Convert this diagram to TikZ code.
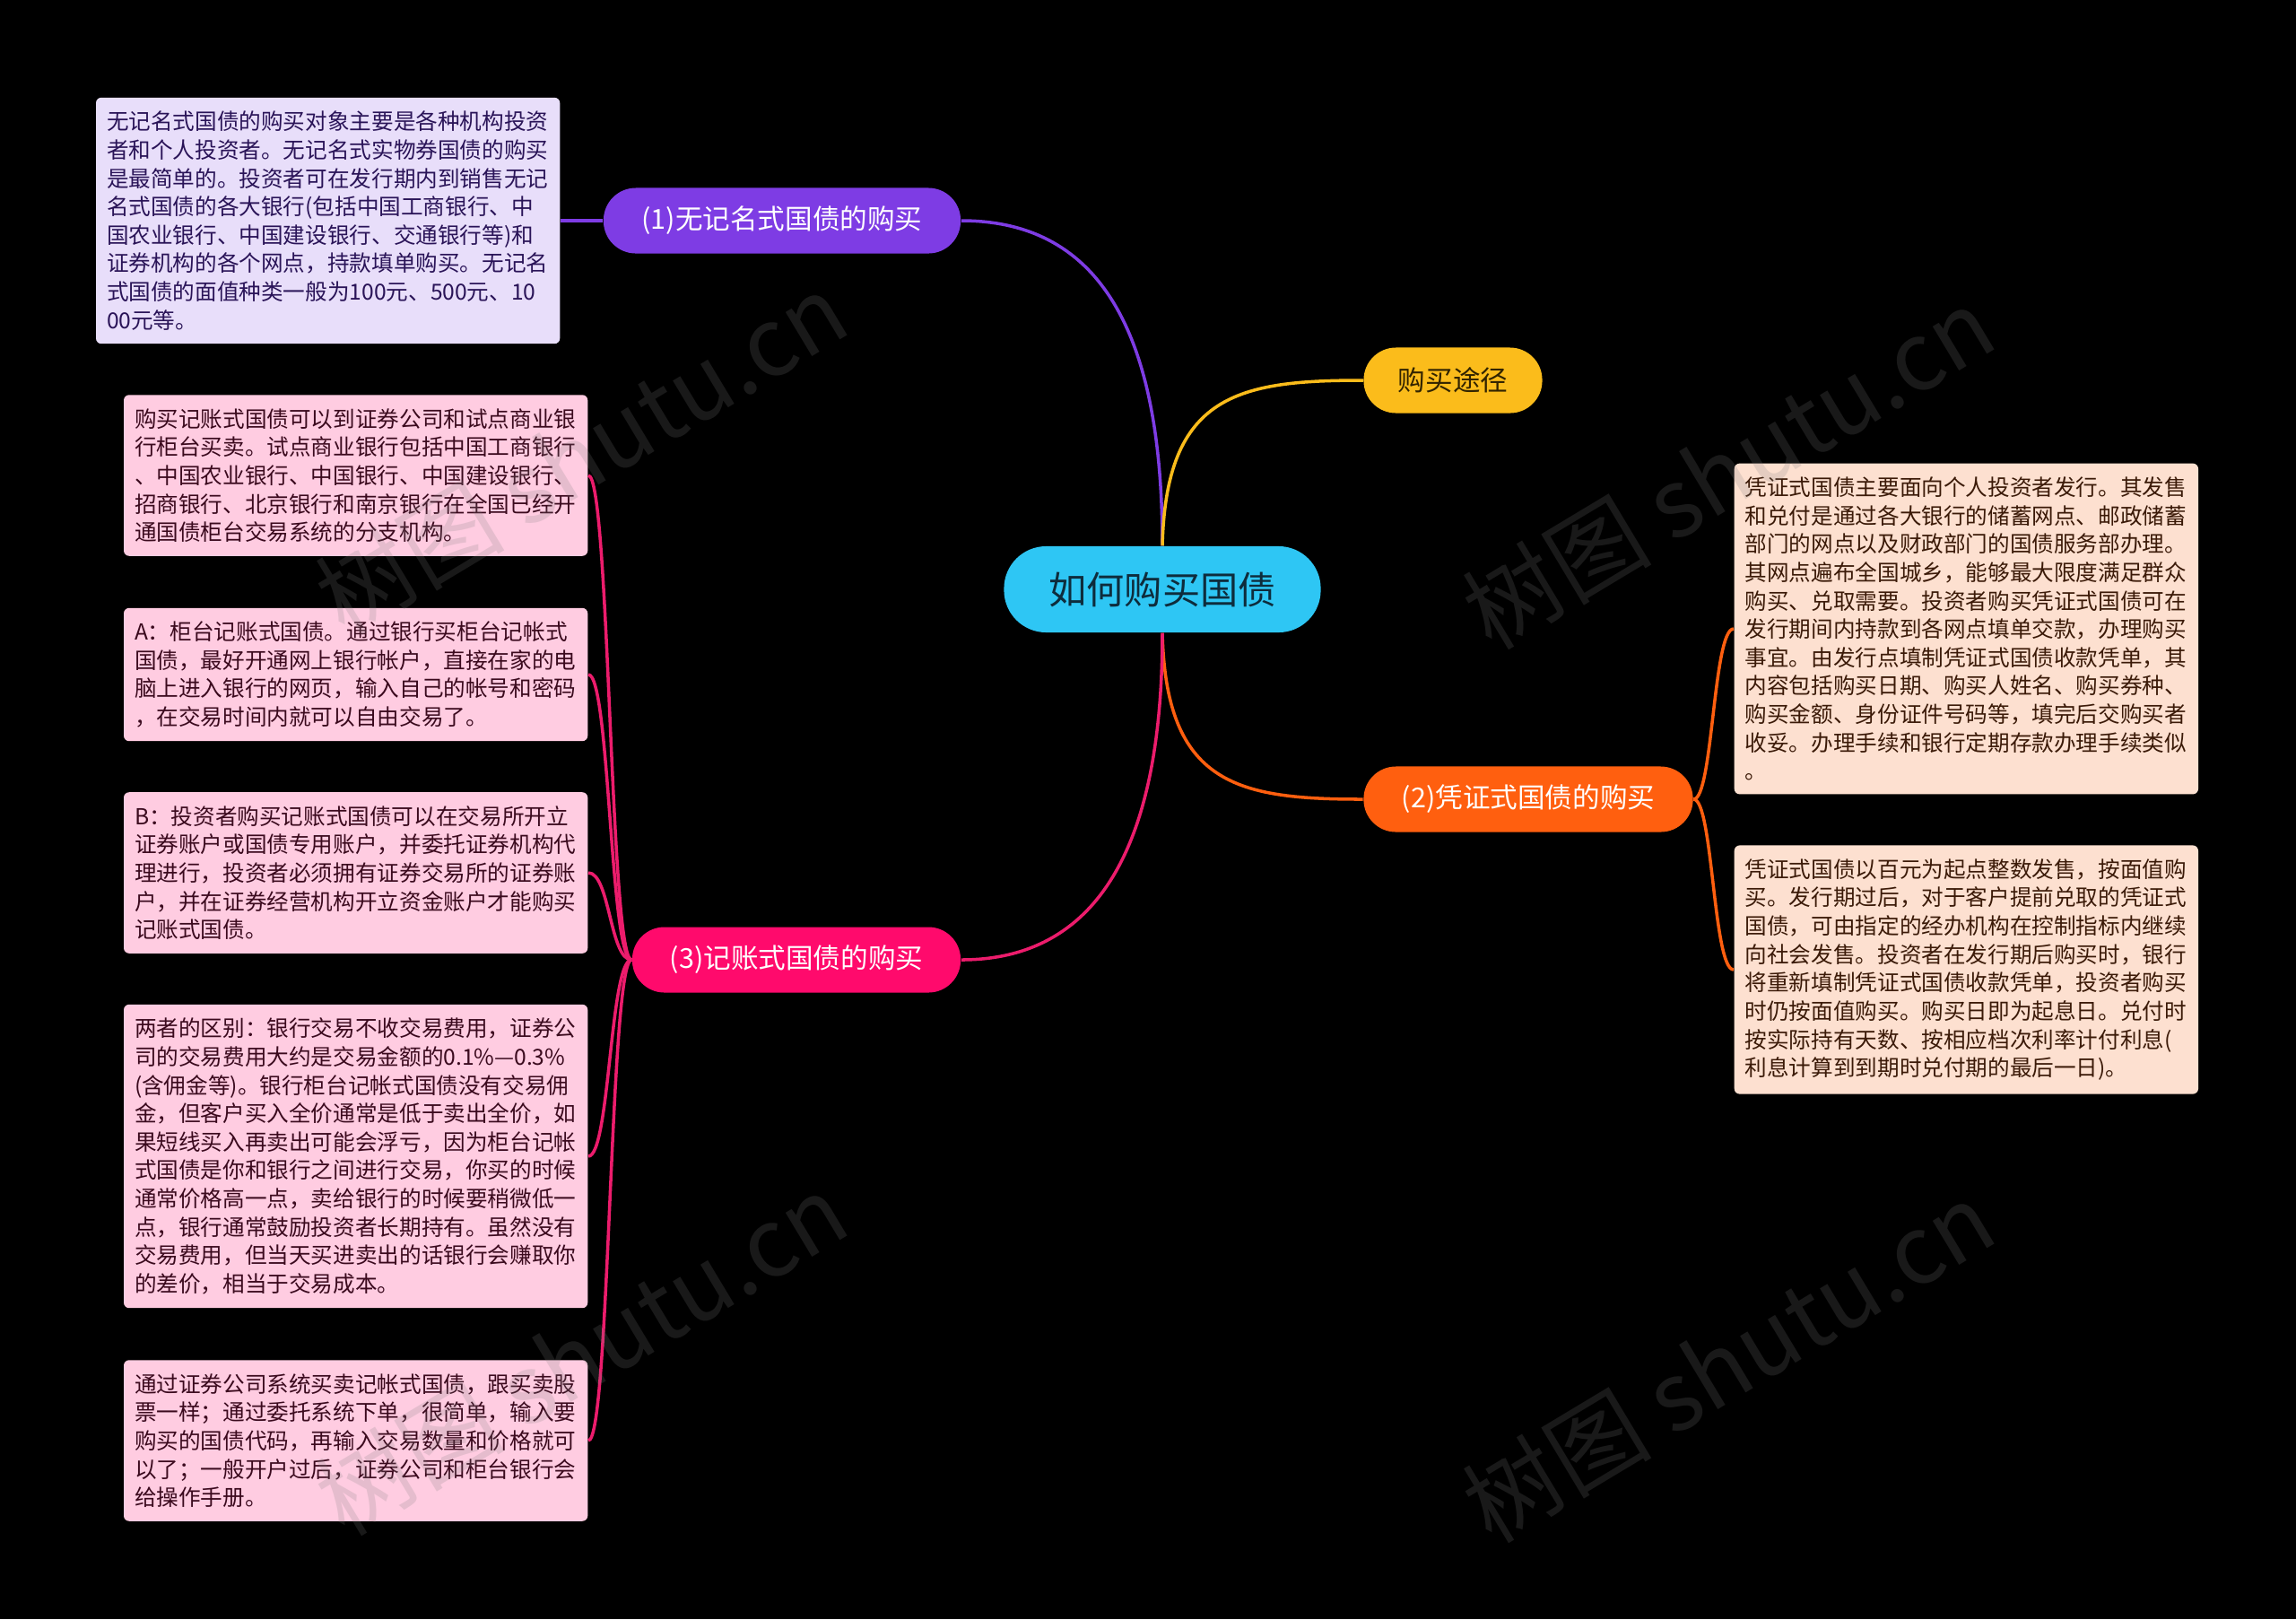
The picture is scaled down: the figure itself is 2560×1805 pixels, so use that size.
\documentclass[tikz,border=0pt]{standalone}
\usepackage{fontspec}
\setmainfont{Noto Sans CJK SC}
\definecolor{bgc}{RGB}{0,0,0}
\definecolor{cblue}{RGB}{46,198,244}
\definecolor{ctext}{RGB}{14,44,60}
\definecolor{cyel}{RGB}{251,188,27}
\definecolor{ytext}{RGB}{50,36,0}
\definecolor{cpur}{RGB}{126,60,228}
\definecolor{pbox}{RGB}{232,222,250}
\definecolor{ptext}{RGB}{42,20,88}
\definecolor{corg}{RGB}{255,95,15}
\definecolor{obox}{RGB}{253,224,208}
\definecolor{otext}{RGB}{59,26,8}
\definecolor{cpink}{RGB}{255,10,108}
\definecolor{kline}{RGB}{236,28,108}
\definecolor{kbox}{RGB}{255,204,225}
\definecolor{ktext}{RGB}{59,10,30}
\begin{document}
\begin{tikzpicture}[x=0.01cm,y=-0.01cm,
  pill/.style={rounded corners=0.36cm, minimum height=0.73cm, inner sep=0pt, align=center, font=\fontsize{8.7}{10}\selectfont},
  textbox/.style={rounded corners=0.06cm, text width=4.93cm, inner xsep=0.12cm, inner ysep=0.15cm, align=left, font=\fontsize{7}{9}\selectfont},
  link/.style={line width=1pt},
  wmark/.style={rotate=31, text=gray, text opacity=0.2, font=\fontsize{30}{30}\selectfont}
]
\useasboundingbox (0,0) rectangle (2560,1805);
\fill[bgc] (0,0) rectangle (2560,1805);

% centre and main branches
\node[fill=cblue, rounded corners=0.47cm, minimum width=3.53cm, minimum height=0.96cm, inner sep=0pt, text=ctext, font=\fontsize{12}{14}\selectfont] (c) at (1296,657) {如何购买国债};
\node[pill, fill=cyel, text=ytext, minimum width=1.99cm] (y) at (1620,424) {购买途径};
\node[pill, fill=cpur, text=white, minimum width=3.98cm] (n1) at (872,246) {(1)无记名式国债的购买};
\node[pill, fill=corg, text=white, minimum width=3.67cm] (n2) at (1704,891) {(2)凭证式国债的购买};
\node[pill, fill=cpink, text=white, minimum width=3.66cm] (n3) at (888,1070) {(3)记账式国债的购买};

% leaf boxes
\node[textbox, fill=pbox, text=ptext, anchor=east] (b1) at (625,246) {无记名式国债的购买对象主要是各种机构投资\\者和个人投资者。无记名式实物券国债的购买\\是最简单的。投资者可在发行期内到销售无记\\名式国债的各大银行(包括中国工商银行、中\\国农业银行、中国建设银行、交通银行等)和\\证券机构的各个网点，持款填单购买。无记名\\式国债的面值种类一般为100元、500元、10\\00元等。};

\node[textbox, fill=kbox, text=ktext, anchor=east] (b2) at (656,530) {购买记账式国债可以到证券公司和试点商业银\\行柜台买卖。试点商业银行包括中国工商银行\\、中国农业银行、中国银行、中国建设银行、\\招商银行、北京银行和南京银行在全国已经开\\通国债柜台交易系统的分支机构。};
\node[textbox, fill=kbox, text=ktext, anchor=east] (b3) at (656,752) {A：柜台记账式国债。通过银行买柜台记帐式\\国债，最好开通网上银行帐户，直接在家的电\\脑上进入银行的网页，输入自己的帐号和密码\\，在交易时间内就可以自由交易了。};
\node[textbox, fill=kbox, text=ktext, anchor=east] (b4) at (656,973) {B：投资者购买记账式国债可以在交易所开立\\证券账户或国债专用账户，并委托证券机构代\\理进行，投资者必须拥有证券交易所的证券账\\户，并在证券经营机构开立资金账户才能购买\\记账式国债。};
\node[textbox, fill=kbox, text=ktext, anchor=east] (b5) at (656,1289) {两者的区别：银行交易不收交易费用，证券公\\司的交易费用大约是交易金额的0.1\%—0.3\%\\(含佣金等)。银行柜台记帐式国债没有交易佣\\金，但客户买入全价通常是低于卖出全价，如\\果短线买入再卖出可能会浮亏，因为柜台记帐\\式国债是你和银行之间进行交易，你买的时候\\通常价格高一点，卖给银行的时候要稍微低一\\点，银行通常鼓励投资者长期持有。虽然没有\\交易费用，但当天买进卖出的话银行会赚取你\\的差价，相当于交易成本。};
\node[textbox, fill=kbox, text=ktext, anchor=east] (b6) at (656,1606) {通过证券公司系统买卖记帐式国债，跟买卖股\\票一样；通过委托系统下单，很简单，输入要\\购买的国债代码，再输入交易数量和价格就可\\以了；一般开户过后，证券公司和柜台银行会\\给操作手册。};

\node[textbox, fill=obox, text=otext, anchor=west] (b7) at (1933,701) {凭证式国债主要面向个人投资者发行。其发售\\和兑付是通过各大银行的储蓄网点、邮政储蓄\\部门的网点以及财政部门的国债服务部办理。\\其网点遍布全国城乡，能够最大限度满足群众\\购买、兑取需要。投资者购买凭证式国债可在\\发行期间内持款到各网点填单交款，办理购买\\事宜。由发行点填制凭证式国债收款凭单，其\\内容包括购买日期、购买人姓名、购买券种、\\购买金额、身份证件号码等，填完后交购买者\\收妥。办理手续和银行定期存款办理手续类似\\。};
\node[textbox, fill=obox, text=otext, anchor=west] (b8) at (1933,1081) {凭证式国债以百元为起点整数发售，按面值购\\买。发行期过后，对于客户提前兑取的凭证式\\国债，可由指定的经办机构在控制指标内继续\\向社会发售。投资者在发行期后购买时，银行\\将重新填制凭证式国债收款凭单，投资者购买\\时仍按面值购买。购买日即为起息日。兑付时\\按实际持有天数、按相应档次利率计付利息(\\利息计算到到期时兑付期的最后一日)。};

% main connectors
\draw[link, cpur] (c.north) .. controls (1296,360) and (1220,246) .. (n1.east);
\draw[link, cyel] (c.north) .. controls (1300,440) and (1380,424) .. (y.west);
\draw[link, corg] (c.south) .. controls (1300,875) and (1380,891) .. (n2.west);
\draw[link, kline] (c.south) .. controls (1296,950) and (1220,1070) .. (n3.east);

% sub connectors
\draw[link, cpur] (n1.west) -- (b1.east);
\foreach \b in {b7,b8}
  \draw[link, corg] (n2.east) .. controls (1910,891) and (1910,891|-\b.west) .. (\b.west);
\foreach \b in {b2,b3,b4,b5,b6}
  \draw[link, kline] (n3.west) .. controls (680,1070) and (680,1070|-\b.east) .. (\b.east);

% watermarks
\node[wmark] (wm1) at (648,506) {树图 shutu.cn};
\node[wmark] (wm2) at (1927,522) {树图 shutu.cn};
\node[wmark] (wm3) at (648,1510) {树图 shutu.cn};
\node[wmark] (wm4) at (1927,1518) {树图 shutu.cn};
\end{tikzpicture}
\end{document}
